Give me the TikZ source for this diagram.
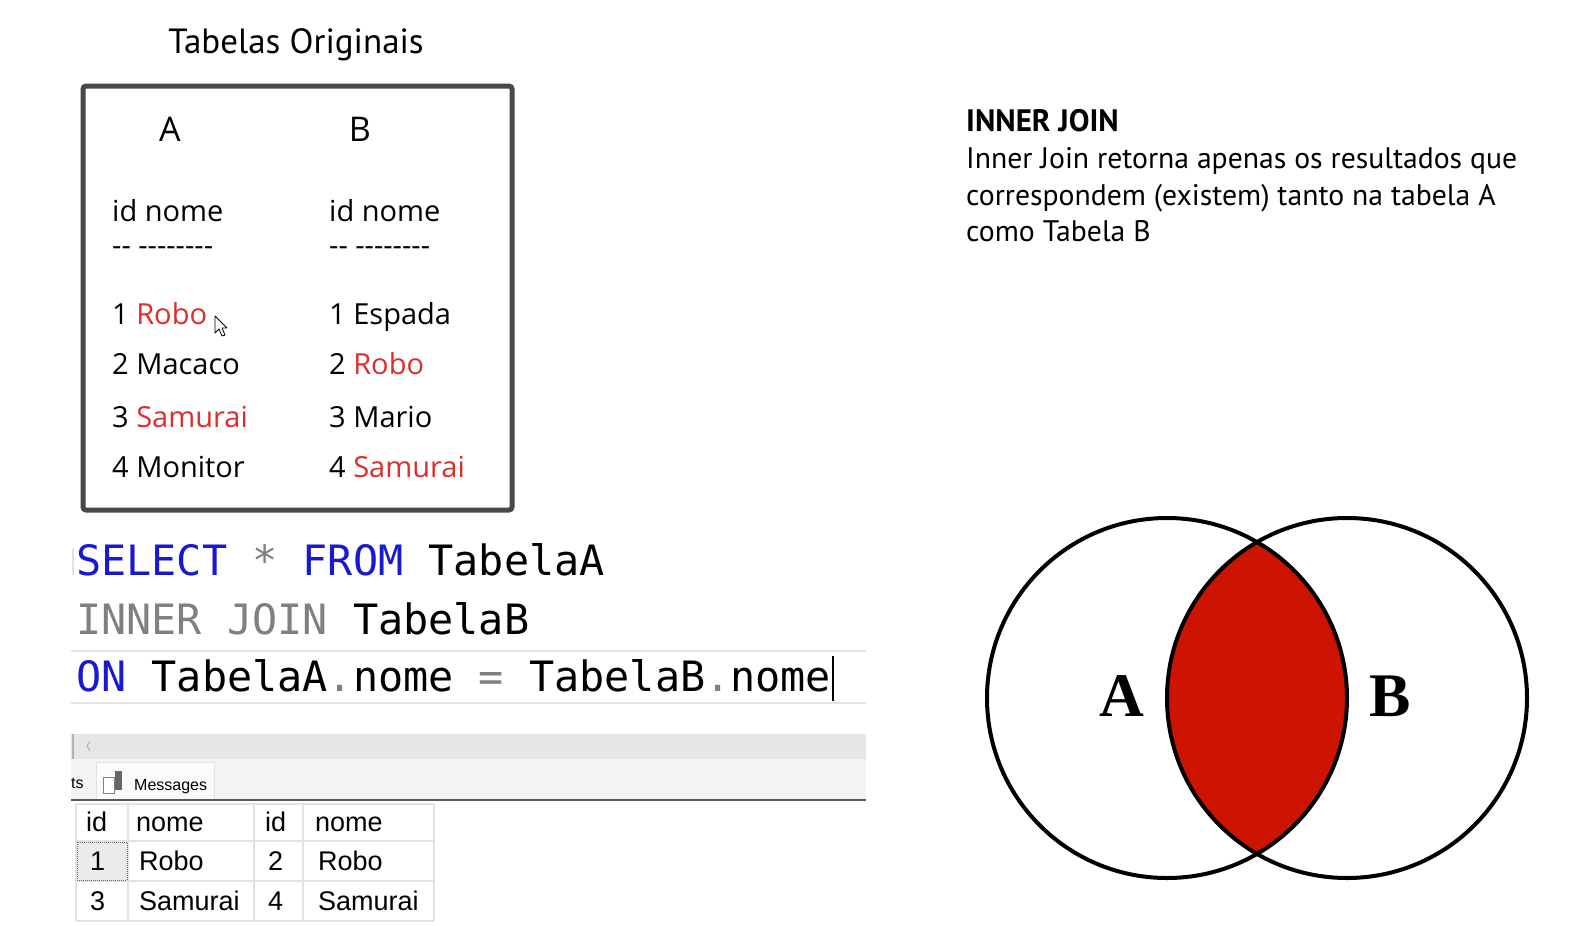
\documentclass[tikz,border=0pt]{standalone}
\usepackage{fontspec}
\setmainfont{Open Sans}
\newfontfamily\titlefont{PT Sans}
\newfontfamily\codefont{DejaVu Sans Mono}
\newfontfamily\gridfont{Liberation Sans}
\newfontfamily\vennfont{Liberation Serif}
\definecolor{rowred}{RGB}{222,45,45}
\definecolor{kwblue}{RGB}{25,25,210}
\definecolor{kwgray}{RGB}{128,128,128}
\definecolor{boxgray}{RGB}{72,72,72}
\definecolor{barfill}{RGB}{230,230,230}
\definecolor{tabfill}{RGB}{243,243,243}
\definecolor{cellline}{RGB}{226,226,226}
\definecolor{lensred}{RGB}{204,20,0}

\begin{document}
\begin{tikzpicture}[x=1pt, y=-1pt,
    title/.style={anchor=base, inner sep=0pt, font=\titlefont\fontsize{35}{40}\selectfont},
    colhead/.style={anchor=base, inner sep=0pt, font=\fontsize{34}{38}\selectfont},
    row/.style={anchor=base west, inner sep=0pt, font=\fontsize{29}{33}\selectfont},
    code/.style={anchor=base west, inner sep=0pt, font=\codefont\fontsize{41.8}{46}\selectfont},
    cell/.style={anchor=base west, inner sep=0pt, font=\gridfont\fontsize{27}{30}\selectfont},
    desc/.style={anchor=base west, inner sep=0pt, font=\titlefont\fontsize{29.7}{36}\selectfont},
    venn/.style={inner sep=0pt, font=\vennfont\bfseries\fontsize{62}{70}\selectfont}]

  \useasboundingbox[fill=white] (0,0) rectangle (1582,926);

  % original tables
  \node[title] (title) at (296,53) {Tabelas Originais};
  \draw[boxgray, line width=5pt, rounded corners=3pt] (83,86) rectangle (512,510);
  \node[colhead] (headA) at (170,141) {A};
  \node[colhead] (headB) at (360,141) {B};
  \node[row] (colsA) at (112,221) {id nome};
  \node[row] (colsB) at (329,221) {id nome};
  \node[row] (lineA) at (112,255) {-{}- -{}-{}-{}-{}-{}-{}-{}-};
  \node[row] (lineB) at (329,255) {-{}- -{}-{}-{}-{}-{}-{}-{}-};
  \foreach \y/\n/\a/\ca/\b/\cb in {324/1/Robo/rowred/Espada/black,
      374/2/Macaco/black/Robo/rowred, 427/3/Samurai/rowred/Mario/black,
      477/4/Monitor/black/Samurai/rowred} {
    \node[row] (a\n) at (112,\y) {\n\ \textcolor{\ca}{\a}};
    \node[row] (b\n) at (329,\y) {\n\ \textcolor{\cb}{\b}};
  }
  \draw[fill=white, line width=0.8pt, line join=round]
    (215,316) -- (215,333) -- (219,329) -- (222,336) -- (225,335) -- (222,328) -- (227,328) -- cycle;

  % query
  \draw[cellline, line width=2pt] (71,651) -- (866,651) (71,703) -- (866,703);
  \draw[cellline, line width=2pt] (73,548) -- (73,575);
  \node[code] (sql1) at (76,575) {\textcolor{kwblue}{SELECT} \textcolor{kwgray}{*} \textcolor{kwblue}{FROM} TabelaA};
  \node[code] (sql2) at (76,634) {\textcolor{kwgray}{INNER JOIN} TabelaB};
  \node[code] (sql3) at (76,691) {\textcolor{kwblue}{ON} TabelaA\textcolor{kwgray}{.}nome \textcolor{kwgray}{=} TabelaB\textcolor{kwgray}{.}nome};
  \draw[line width=2pt] (833,656) -- (833,701);

  % results pane
  \fill[barfill] (71,734) rectangle (866,759);
  \fill[tabfill] (71,759) rectangle (866,800);
  \draw[gray!60, line width=1.5pt] (73,734) -- (73,759);
  \draw[gray!60, line width=1pt] (90,741) -- (87,746) -- (90,751);
  \draw[cellline, fill=white!70!tabfill] (96,800) -- (96,762) -- (214,762) -- (214,800);
  \draw[gray!70!black, line width=1.5pt] (71,800) -- (866,800);
  \node[cell, font=\gridfont\fontsize{16}{18}\selectfont] (tabres) at (71,788) {ts};
  \draw[gray, fill=white, line width=0.8pt] (103,777) rectangle (114,793);
  \fill[gray!80!black] (115,771) rectangle (122,790);
  \node[cell, font=\gridfont\fontsize{16}{18}\selectfont] (tabmsg) at (134,790) {Messages};

  % result grid
  \fill[blue!4!gray!15] (76,841) rectangle (128,881);
  \draw[cellline, line width=1.2pt] (76,804) -- (434,804) (76,841) -- (434,841)
    (76,881) -- (434,881) (76,921) -- (434,921);
  \foreach \x in {76,128,254,303,434}
    \draw[cellline, line width=1.2pt] (\x,804) -- (\x,921);
  \draw[gray!80!black, densely dotted, line width=1pt] (77,842) rectangle (127,880);
  \node[cell] (hid1) at (86,831) {id};
  \node[cell] (hnome1) at (136,831) {nome};
  \node[cell] (hid2) at (265,831) {id};
  \node[cell] (hnome2) at (315,831) {nome};
  \node[cell] (r1id1) at (90,870) {1};
  \node[cell] (r1nome1) at (139,870) {Robo};
  \node[cell] (r1id2) at (268,870) {2};
  \node[cell] (r1nome2) at (318,870) {Robo};
  \node[cell] (r2id1) at (90,910) {3};
  \node[cell] (r2nome1) at (139,910) {Samurai};
  \node[cell] (r2id2) at (268,910) {4};
  \node[cell] (r2nome2) at (318,910) {Samurai};

  % description
  \node[desc, font=\titlefont\bfseries\fontsize{31}{36}\selectfont] (jointitle) at (966,131) {INNER JOIN};
  \node[desc] (desc1) at (966,168) {Inner Join retorna apenas os resultados que};
  \node[desc] (desc2) at (966,205) {correspondem (existem) tanto na tabela A};
  \node[desc] (desc3) at (966,241) {como Tabela B};

  % venn diagram
  \begin{scope}
    \clip (1167,698) circle[radius=180];
    \fill[lensred] (1347,698) circle[radius=180];
  \end{scope}
  \draw[line width=4pt] (1167,698) circle[radius=180];
  \draw[line width=4pt] (1347,698) circle[radius=180];
  \node[venn] (setA) at (1122,696) {A};
  \node[venn] (setB) at (1390,696) {B};
\end{tikzpicture}
\end{document}
